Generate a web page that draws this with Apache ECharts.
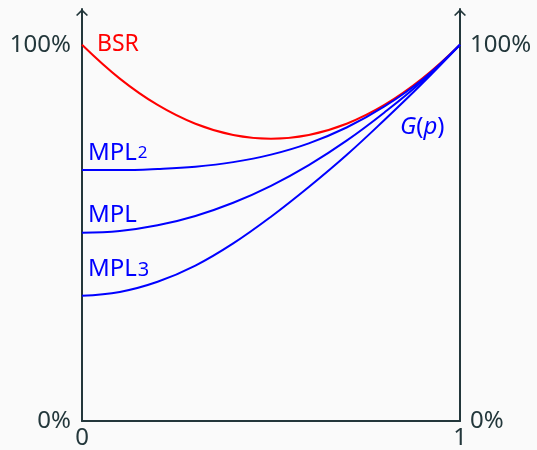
<!DOCTYPE html>
<html><head><meta charset="utf-8">
<script src="https://cdn.jsdelivr.net/npm/echarts@6/dist/echarts.min.js"></script>
<style>html,body{margin:0;padding:0;background:#fafafa}#c{width:537px;height:450px}</style>
</head><body><div id="c"></div>
<script>
// ---- data ----
const pValues = [0, 0.1, 0.2, 0.3, 0.4, 0.5, 0.6, 0.7, 0.8, 0.9, 1.0];
const bsr  = [1.000, 0.910, 0.840, 0.790, 0.760, 0.750, 0.760, 0.790, 0.840, 0.910, 1.000];
const mpl2 = [0.667, 0.667, 0.670, 0.676, 0.688, 0.708, 0.738, 0.780, 0.836, 0.907, 1.000];
const mpl  = [0.500, 0.505, 0.520, 0.545, 0.580, 0.625, 0.680, 0.745, 0.820, 0.903, 1.000];
const mpl3 = [0.333, 0.343, 0.370, 0.413, 0.472, 0.543, 0.622, 0.707, 0.800, 0.897, 1.000];
const yTickValues = [0, 1];
const yTickLabels = ['0%', '100%'];
const xTickValues = [0, 1];
const xTickLabels = ['0', '1'];
const seriesNames = ['BSR', 'MPL2', 'MPL', 'MPL3'];

// ---- style ----
const ink = '#23373b';
const RED = '#ff0000', BLUE = '#0000ff';
const FONT = 'Noto Sans';
const FS = 24;
const yMax = 1.095;
const arrowPath = 'path://M0 12 L12 0 L24 12 L21.6 14 L12 4.8 L2.4 14 Z';

function makeData(vals, labels) {
  return pValues.map((p, i) => {
    const item = { value: [p, vals[i]] };
    if (labels[i]) item.label = Object.assign({ show: true }, labels[i]);
    return item;
  });
}
const mplRich = {
  a: { fontFamily: FONT, fontSize: 24, color: BLUE, verticalAlign: 'bottom' },
  d2: { fontFamily: FONT, fontSize: 17, color: BLUE, verticalAlign: 'bottom', padding: [0, 0, 3, 1] },
  d3: { fontFamily: FONT, fontSize: 20, color: BLUE, verticalAlign: 'bottom', padding: [0, 0, 0, 1] }
};
function mplLabel(text, dy) {
  const m = text.match(/^(MPL)(\d?)$/);
  return {
    position: 'right', distance: 6, offset: [0, dy],
    formatter: m[2] ? '{a|' + m[1] + '}{d' + m[2] + '|' + m[2] + '}' : '{a|' + m[1] + '}',
    rich: mplRich
  };
}
const gLabel = {
  position: 'bottom', distance: 32,
  formatter: '{i|G}{u|(}{i|p}{u|)}',
  rich: {
    i: { fontFamily: FONT, fontSize: 24, color: BLUE, fontStyle: 'italic' },
    u: { fontFamily: FONT, fontSize: 24, color: BLUE }
  }
};

function lineSeries(name, vals, color, labels) {
  return {
    name, type: 'line', data: makeData(vals, labels), smooth: 0.4,
    showSymbol: true, symbolSize: 0,
    lineStyle: { color, width: 2 }, itemStyle: { color },
    label: { show: false, color, fontFamily: FONT, fontSize: 23 },
    emphasis: { disabled: true }, silent: true, z: color === RED ? 2 : 3
  };
}

const axisLineY = {
  show: true, onZero: false,
  lineStyle: { color: ink, width: 2 },
  symbol: ['none', arrowPath], symbolSize: [12, 7], symbolOffset: [0, -3.5]
};
const axisText = { color: ink, fontFamily: FONT, fontSize: FS };

const option = {
  backgroundColor: '#fafafa',
  animation: false,
  grid: { left: 82, right: 77, top: 9, bottom: 26, containLabel: false },
  xAxis: {
    type: 'value', min: 0, max: 1,
    axisLine: { show: true, onZero: false, lineStyle: { color: ink, width: 2 } },
    axisTick: { show: false }, splitLine: { show: false },
    axisLabel: Object.assign({
      customValues: xTickValues, margin: 5,
      formatter: v => v === 0 ? xTickLabels[0] : xTickLabels[1]
    }, axisText)
  },
  yAxis: [{
    type: 'value', min: 0, max: yMax, position: 'left',
    axisLine: axisLineY, axisTick: { show: false }, splitLine: { show: false },
    axisLabel: Object.assign({
      customValues: yTickValues, margin: 11,
      formatter: v => v === 0 ? yTickLabels[0] : yTickLabels[1]
    }, axisText)
  }, {
    type: 'value', min: 0, max: yMax, position: 'right',
    axisLine: axisLineY, axisTick: { show: false }, splitLine: { show: false },
    axisLabel: Object.assign({
      customValues: yTickValues, margin: 10,
      formatter: v => v === 0 ? yTickLabels[0] : yTickLabels[1]
    }, axisText)
  }],
  series: [
    lineSeries(seriesNames[0], bsr, RED, { 0: { position: 'right', distance: 15, formatter: seriesNames[0] } }),
    lineSeries(seriesNames[1], mpl2, BLUE, { 0: mplLabel(seriesNames[1], -17) }),
    lineSeries(seriesNames[2], mpl, BLUE, { 0: mplLabel(seriesNames[2], -18) }),
    lineSeries(seriesNames[3], mpl3, BLUE, { 0: mplLabel(seriesNames[3], -27), 9: gLabel })
  ]
};
const chart = echarts.init(document.getElementById('c'), null, { renderer: 'canvas' });
chart.setOption(option);
</script>
</body></html>
